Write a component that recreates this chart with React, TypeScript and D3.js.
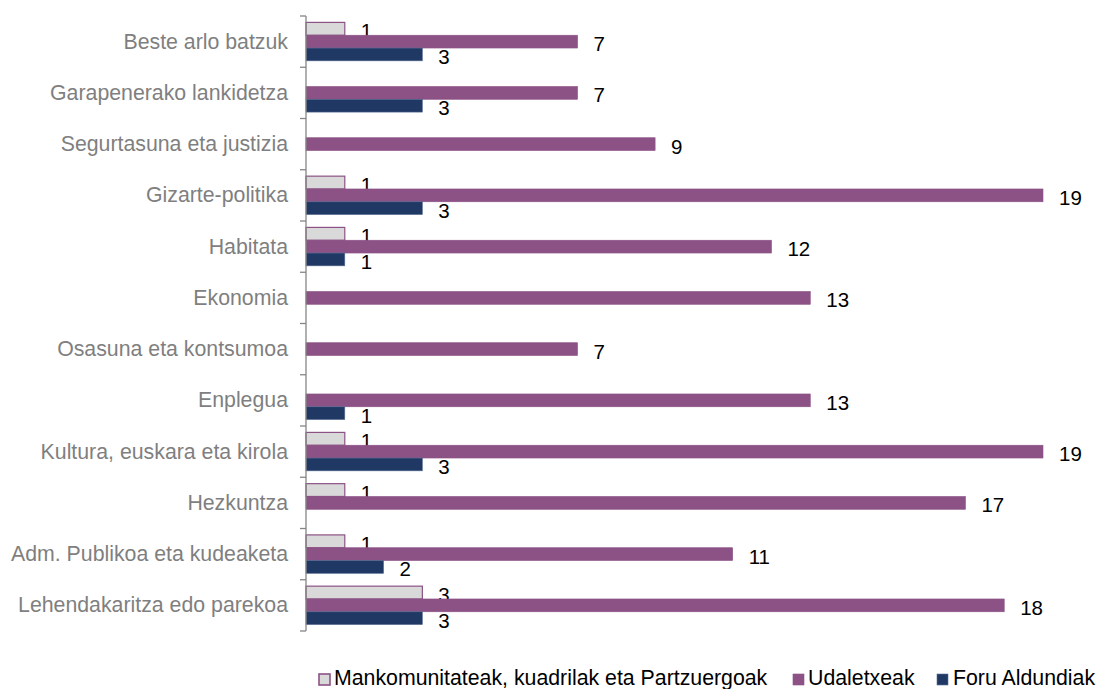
import React from "react";
import * as d3 from "d3";

const categories = [
  "Beste arlo batzuk",
  "Garapenerako lankidetza",
  "Segurtasuna eta justizia",
  "Gizarte-politika",
  "Habitata",
  "Ekonomia",
  "Osasuna eta kontsumoa",
  "Enplegua",
  "Kultura, euskara eta kirola",
  "Hezkuntza",
  "Adm. Publikoa eta kudeaketa",
  "Lehendakaritza edo parekoa",
];
const seriesNames = [
  "Mankomunitateak, kuadrilak eta Partzuergoak",
  "Udaletxeak",
  "Foru Aldundiak",
];
const mankomunitateak: (number | null)[] = [1, null, null, 1, 1, null, null, null, 1, 1, 1, 3];
const udaletxeak: (number | null)[] = [7, 7, 9, 19, 12, 13, 7, 13, 19, 17, 11, 18];
const foruAldundiak: (number | null)[] = [3, 3, null, 3, 1, null, null, 1, 3, null, 2, 3];

const W = 1097;
const H = 689;
const FONT = "'Liberation Sans', Arial, sans-serif";

const fills = ["#D9D9D9", "#8C5286", "#1F3864"];
const strokes = ["#8C5286", "#8C5286", "#5B6F94"];

export default function App() {
  const seriesValues = [mankomunitateak, udaletxeak, foruAldundiak];
  const x = d3.scaleLinear().domain([0, 19]).range([306, 1043]);
  const y = d3
    .scaleBand<string>()
    .domain(categories)
    .range([16, 631])
    .paddingInner(0.25)
    .paddingOuter(0.125);
  const inner = d3
    .scaleBand<string>()
    .domain(seriesNames)
    .range([0, y.bandwidth()]);

  const step = y.step();
  const boundaries = d3.range(categories.length + 1).map((i) => 16 + i * step);

  const legendX = [
    { m: 319, t: 334 },
    { m: 793, t: 808 },
    { m: 937, t: 953 },
  ];

  return (
    <svg
      width={W}
      height={H}
      style={{ position: "absolute", left: 0, top: 0, background: "#fff" }}
      fontFamily={FONT}
    >
      {categories.map((c, ci) => (
        <g key={c}>
          {seriesNames.map((s, si) => {
            const v = seriesValues[si][ci];
            if (v == null) return null;
            const by = (y(c) as number) + (inner(s) as number);
            const bh = inner.bandwidth();
            return (
              <g key={s}>
                <rect
                  x={x(0)}
                  y={by}
                  width={x(v) - x(0)}
                  height={bh}
                  fill={fills[si]}
                  stroke={strokes[si]}
                  strokeWidth={si === 0 ? 1.2 : 0.6}
                />
                <text
                  x={x(v) + 16}
                  y={by + bh / 2 + 2}
                  dominantBaseline="central"
                  fontSize={20.5}
                  fill="#000"
                >
                  {v}
                </text>
              </g>
            );
          })}
        </g>
      ))}
      <line x1={306} x2={306} y1={16} y2={631} stroke="#868686" strokeWidth={1.3} />
      {boundaries.map((b, i) => (
        <line key={i} x1={300} x2={306} y1={b} y2={b} stroke="#868686" strokeWidth={1.3} />
      ))}
      {categories.map((c) => (
        <text
          key={c}
          x={288}
          y={(y(c) as number) + y.bandwidth() / 2}
          textAnchor="end"
          dominantBaseline="central"
          fontSize={21.3}
          fill="#7F7F7F"
        >
          {c}
        </text>
      ))}
      {seriesNames.map((s, si) => (
        <g key={s}>
          <rect
            x={legendX[si].m}
            y={674}
            width={11}
            height={11}
            fill={fills[si]}
            stroke={strokes[si]}
            strokeWidth={si === 0 ? 1.6 : 0.6}
          />
          <text x={legendX[si].t} y={678} dominantBaseline="central" fontSize={21.3} fill="#000">
            {s}
          </text>
        </g>
      ))}
    </svg>
  );
}
